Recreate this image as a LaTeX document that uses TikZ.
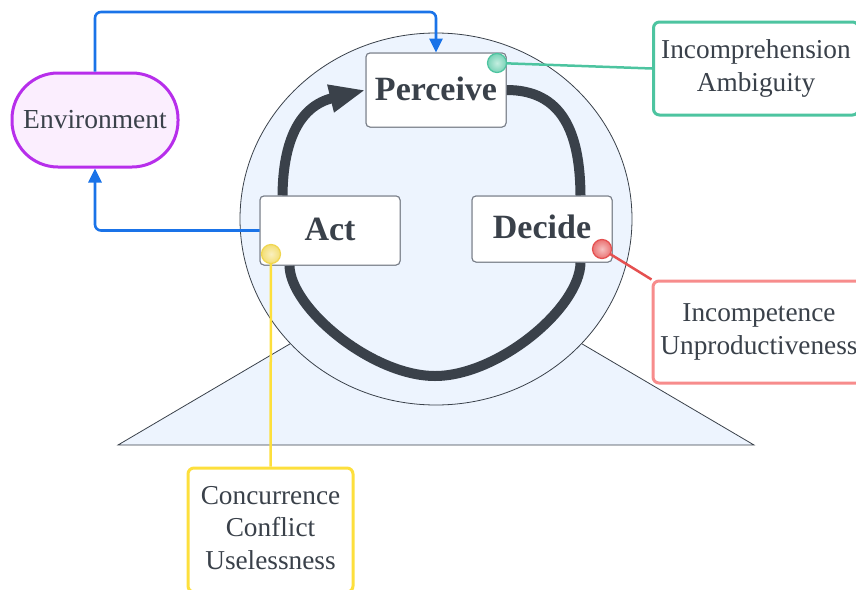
\documentclass[tikz,border=0pt]{standalone}
\usepackage{fontspec}
\setmainfont{Liberation Serif}
\usetikzlibrary{arrows.meta,calc}
\definecolor{txt}{HTML}{3A414A}
\definecolor{bgblue}{HTML}{EDF4FE}
\definecolor{boxgray}{HTML}{767C86}
\definecolor{connblue}{HTML}{1A73E8}
\definecolor{envpurple}{HTML}{B72EEB}
\definecolor{envfill}{HTML}{FBEEFE}
\definecolor{teal1}{HTML}{4DC4A0}
\definecolor{teal2}{HTML}{C4EEE0}
\definecolor{red1}{HTML}{E55050}
\definecolor{red2}{HTML}{F6C0C0}
\definecolor{redbox}{HTML}{F78C8C}
\definecolor{yel1}{HTML}{F0D650}
\definecolor{yel2}{HTML}{FAF0C0}
\definecolor{yelbox}{HTML}{FDDF3C}
\tikzset{
  stagebox/.style={draw=boxgray,line width=1pt,fill=white,rounded corners=4pt,
    font=\fontsize{34}{40}\selectfont\bfseries,text=txt,inner sep=0pt},
  envbox/.style={draw=envpurple,line width=3pt,fill=envfill,rounded corners=46pt,
    font=\fontsize{27.5}{32}\selectfont,text=txt,minimum width=166pt,minimum height=94pt,inner sep=0pt},
  callout/.style={line width=3pt,fill=white,rounded corners=6pt,align=center,
    font=\fontsize{27.3}{32.5}\selectfont,text=txt,inner sep=0pt},
  cycle/.style={draw=txt,line width=10pt},
  bluearrow/.style={draw=connblue,line width=2.6pt,rounded corners=6pt,
    -{Triangle[length=14pt,width=13pt]}},
  dotmark/.style={circle,inner sep=0pt,minimum size=19pt,line width=1.2pt},
}
\newcommand{\up}[2]{\raisebox{#1}{#2}}
\begin{document}
\begin{tikzpicture}[x=1pt,y=-1pt]
\useasboundingbox (0,0) rectangle (856,589);
% base triangle and globe
\draw[draw=txt,line width=0.8pt,fill=bgblue] (118,445) -- (436,258) -- (754,445) -- cycle;
\draw[draw=txt,line width=0.8pt,fill=bgblue] (436,219) ellipse [x radius=196pt, y radius=186pt];
% stage boxes
\node[stagebox,minimum width=140pt,minimum height=74pt] (perceive) at (436,90) {};
\node[stagebox,minimum width=140pt,minimum height=69pt] (act) at (330,230.5) {};
\node[stagebox,minimum width=140pt,minimum height=66pt] (decide) at (542,229) {};
% cycle arcs
\draw[cycle,-{Triangle[length=36pt,width=26pt]}] ([xshift=23pt]act.north west)
  .. controls (283,140) and (300,106) .. (perceive.west);
\draw[cycle] (perceive.east) .. controls (562,90) and (580,132) .. ([xshift=-32pt]decide.north east);
\draw[cycle] ([xshift=-32pt]decide.south east) .. controls (580,308) and (498,376) .. (435,376)
  .. controls (372,376) and (290,308) .. ([xshift=30pt]act.south west);
% boxes on top of arc ends
\node[stagebox,minimum width=140pt,minimum height=74pt] at (perceive) {\up{3pt}{Perceive}};
\node[stagebox,minimum width=140pt,minimum height=69pt] at (act) {\up{3pt}{Act}};
\node[stagebox,minimum width=140pt,minimum height=66pt] at (decide) {\up{4pt}{Decide}};
% environment
\node[envbox] (env) at (95,120) {Environment};
\coordinate (topline) at (436,12);
\draw[bluearrow] (env.north) |- (topline) -- (perceive.north);
\draw[bluearrow] (act.west) -| (env.south);
% callouts
\node[callout,draw=teal1,minimum width=205pt,minimum height=93pt] (incomp) at (756,68.5)
  {Incomprehension\\Ambiguity};
\node[callout,draw=redbox,minimum width=212pt,minimum height=102pt] (incompet) at (759,332)
  {Incompetence\\Unproductiveness};
\node[callout,draw=yelbox,minimum width=165pt,minimum height=124pt] (concur) at (270.5,530)
  {\up{4pt}{\begin{tabular}{@{}c@{}}Concurrence\\Conflict\\Uselessness\end{tabular}}};
\coordinate (tdot) at (497,63);
\coordinate (rdot) at (602,249);
\coordinate (ydot) at (271,254);
\draw[teal1,line width=2.5pt] (tdot) -- (incomp.west);
\draw[red1,line width=2.5pt] (rdot) -- (incompet.north west);
\draw[yelbox,line width=2.5pt] (ydot) -- (concur.north);
\node[dotmark,draw=teal1,inner color=teal2,outer color=teal1!75] at (tdot) {};
\node[dotmark,draw=red1,inner color=red2,outer color=red1!80] at (rdot) {};
\node[dotmark,draw=yel1,inner color=yel2,outer color=yel1!80] at (ydot) {};
\end{tikzpicture}
\end{document}
